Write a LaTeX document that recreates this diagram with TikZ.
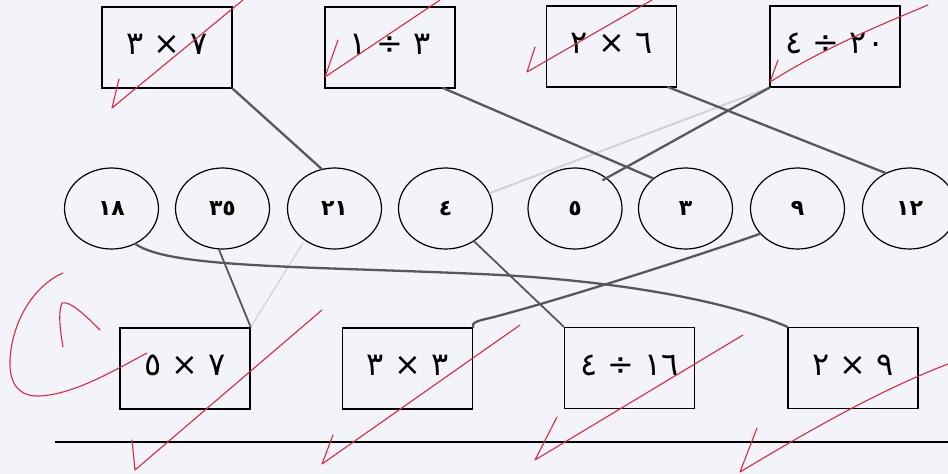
\documentclass[tikz,border=0pt]{standalone}
\usepackage{fontspec}
\TeXXeTstate=1
\newfontfamily\ar[Script=Arabic]{DejaVu Sans}
\usetikzlibrary{shapes.geometric}
\definecolor{paper}{RGB}{242,244,249}
\definecolor{pencil}{RGB}{88,88,92}
\definecolor{faint}{RGB}{208,210,216}
\definecolor{redpen}{RGB}{222,40,62}
\tikzset{
  card/.style={draw, line width=1.5pt, minimum width=130pt, minimum height=81pt, inner sep=0pt,
    font=\ar\fontsize{32}{32}\selectfont},
  oval/.style={ellipse, draw, line width=1.2pt, minimum width=94pt, minimum height=81pt, inner sep=0pt,
    font=\ar\bfseries\fontsize{22}{22}\selectfont},
  link/.style={pencil, line width=2.3pt, line cap=round, line join=round},
  ghost/.style={faint, line width=2pt, line cap=round},
  tick/.style={redpen, line width=1.1pt, line cap=round, line join=round}
}
\newcommand{\up}[1]{\raisebox{6pt}{\beginR #1\endR}}
\begin{document}
\begin{tikzpicture}[x=1pt,y=-1pt]
\fill[paper] (0,0) rectangle (948,474);
\useasboundingbox (0,0) rectangle (948,474);

% top cards
\node[card] (b1) at (167,47.5) {\up{٧ × ٣}};
\node[card] (b2) at (390,47.5) {\up{٣ ÷ ١}};
\node[card] (b3) at (611.5,46.5) {\up{٦ × ٢}};
\node[card] (b4) at (835,46.5) {\up{\beginL ٢٠\endL{} ÷ ٤}};

% ovals
\node[oval] (e18) at (111.5,208.5) {١٨};
\node[oval] (e35) at (222.5,208.5) {٣٥};
\node[oval] (e21) at (334.5,208.5) {٢١};
\node[oval] (e4)  at (445.5,208.5) {٤};
\node[oval] (e5)  at (575,208.5) {٥};
\node[oval] (e3)  at (685.5,208.5) {٣};
\node[oval] (e9)  at (797.5,208.5) {٩};
\node[oval] (e12) at (909.5,208.5) {١٢};

% bottom cards
\node[card] (b5) at (185,368.5) {\up{٧ × ٥}};
\node[card] (b6) at (407.5,368.5) {\up{٣ × ٣}};
\node[card] (b7) at (629.5,368) {\up{\beginL ١٦\endL{} ÷ ٤}};
\node[card] (b8) at (853,368) {\up{٩ × ٢}};

% rule line
\coordinate (r0) at (55,442);
\coordinate (r1) at (948,442);
\draw[line width=1.3pt] (r0) -- (r1);

% faint erased lines
\coordinate (f1) at (490,193);
\coordinate (f2) at (303,243);
\coordinate (f3) at (252,325);
\draw[ghost] (b4.south west) -- (f1);
\draw[ghost, line width=1.2pt] (f2) -- (f3);

% pencil connectors
\coordinate (s2) at (443,88);
\coordinate (s3) at (668,87);
\coordinate (t5) at (603,180);
\draw[link] (b1.south east) -- (e21.108);
\draw[link] (s2) -- (e3.137);
\draw[link] (s3) -- (e12.124);
\draw[link] (b4.south west) -- (t5);
\draw[link] (e18.-56) .. controls (170,268) and (300,266) .. (480,274)
  .. controls (600,279) and (720,298) .. (b8.north west);
\draw[link, line width=1.8pt] (e35.-95) -- (b5.north east);
\draw[link, line width=1.8pt] (e4.-49) -- (b7.north west);
\draw[link] (e9.214) .. controls (700,255) and (560,300) .. (490,318)
  .. controls (476,321) and (471,323) .. (b6.north east);

% red check marks, top
\draw[tick] (119,79) -- (112,108) -- (243,0);
\draw[tick] (338,40) -- (325,77) -- (440,0);
\draw[tick] (535,47) -- (527,72) -- (652,0);
\draw[tick] (778,60) -- (770,82) .. controls (820,50) and (880,25) .. (928,5);
% red check marks, bottom
\draw[tick] (132,440) -- (135,470) -- (322,310);
\draw[tick] (333,435) -- (322,464) -- (520,325);
\draw[tick] (557,417) -- (535,460) -- (743,335);
\draw[tick] (757,428) -- (740,472) .. controls (810,430) and (880,390) .. (948,364);
% red score mark
\draw[tick] (63,273) .. controls (35,285) and (12,320) .. (10,360)
  .. controls (9,385) and (20,397) .. (40,396)
  .. controls (75,394) and (115,370) .. (147,353);
\draw[tick] (63,347) .. controls (60,330) and (58,312) .. (62,303)
  .. controls (70,300) and (88,318) .. (100,330);
\end{tikzpicture}
\end{document}
